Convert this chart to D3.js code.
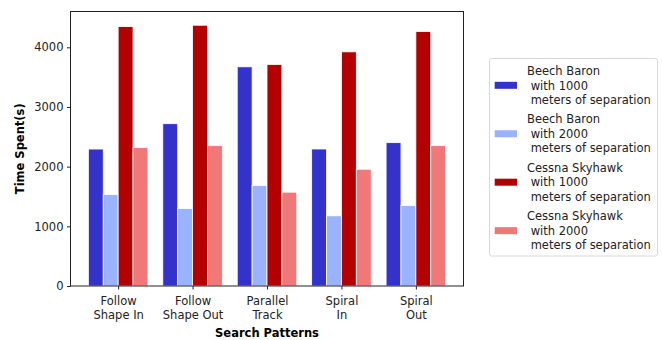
<!DOCTYPE html>
<html><head><meta charset="utf-8">
<script src="https://cdn.jsdelivr.net/npm/d3@7"></script>
<style>body{margin:0;background:#fff}text{font-family:"DejaVu Sans",sans-serif}</style>
</head><body><svg id="c" width="662" height="340"></svg>
<script>
const categories = ["Follow\nShape In", "Follow\nShape Out", "Parallel\nTrack", "Spiral\nIn", "Spiral\nOut"];
const seriesNames = [
  "Beech Baron\n with 1000\n meters of separation",
  "Beech Baron\n with 2000\n meters of separation",
  "Cessna Skyhawk\n with 1000\n meters of separation",
  "Cessna Skyhawk\n with 2000\n meters of separation"
];
const beech1000 = [2295, 2720, 3673, 2296, 2402];
const beech2000 = [1533, 1299, 1683, 1176, 1349];
const cessna1000 = [4348, 4370, 3712, 3924, 4264];
const cessna2000 = [2319, 2352, 1572, 1957, 2352];
const yTicks = [0, 1000, 2000, 3000, 4000];
const colors = ["#3333cc", "#99b3ff", "#b30000", "#f07878"];
const series = [beech1000, beech2000, cessna1000, cessna2000];

const svg = d3.select("#c");
const L = 70.5, R = 463.5, T = 11.5, B = 286;
const barW = 0.2;
const x = d3.scaleLinear().domain([-0.64, 4.64]).range([L, R]);
const y = d3.scaleLinear().domain([0, 4600]).range([B, T]);
const fs = 11.5;

// bars
series.forEach((vals, si) => {
  svg.append("g").selectAll("rect").data(vals).join("rect")
    .attr("x", (d, i) => x(i + (si - 2) * barW))
    .attr("width", x(barW) - x(0))
    .attr("y", d => y(d))
    .attr("height", d => y(0) - y(d))
    .attr("fill", colors[si])
    .attr("stroke", "#fff").attr("stroke-width", 0.8);
});

// frame
svg.append("rect").attr("x", L).attr("y", T).attr("width", R - L).attr("height", B - T)
  .attr("fill", "none").attr("stroke", "#222").attr("stroke-width", 1);

// y axis
const yAxis = d3.axisLeft(y).tickValues(yTicks).tickSize(3.5).tickPadding(3.5).tickFormat(d3.format("d"));
const gy = svg.append("g").attr("transform", `translate(${L},0)`).call(yAxis);
gy.select(".domain").remove();
gy.selectAll("line").attr("stroke", "#222");
gy.selectAll("text").attr("font-size", fs).attr("fill", "#222").style("font-family", '"DejaVu Sans"');

// x axis
const xAxis = d3.axisBottom(x).tickValues(d3.range(categories.length)).tickSize(3.5).tickFormat("");
const gx = svg.append("g").attr("transform", `translate(0,${B})`).call(xAxis);
gx.select(".domain").remove();
gx.selectAll("line").attr("stroke", "#222");
gx.selectAll(".tick").each(function(d) {
  const lines = categories[d].split("\n");
  const t = d3.select(this).append("text").attr("text-anchor", "middle").attr("fill", "#222")
    .attr("font-size", fs).style("font-family", '"DejaVu Sans"');
  lines.forEach((ln, k) => t.append("tspan").attr("x", 0).attr("y", 19 + k * 14.3).text(ln));
});

// axis labels
svg.append("text").attr("x", (L + R) / 2).attr("y", 337).attr("text-anchor", "middle")
  .attr("font-size", fs).attr("font-weight", "bold").attr("fill", "#000").text("Search Patterns");
svg.append("text").attr("transform", `translate(24,${(T + B) / 2}) rotate(-90)`).attr("text-anchor", "middle")
  .attr("font-size", fs).attr("font-weight", "bold").attr("fill", "#000").text("Time Spent(s)");

// legend
const lg = svg.append("g");
lg.append("rect").attr("x", 489.5).attr("y", 58.5).attr("width", 168).attr("height", 197.5).attr("rx", 2)
  .attr("fill", "#fff").attr("stroke", "#d8d8d8").attr("stroke-width", 1);
seriesNames.forEach((name, i) => {
  const cy = 85.3 + i * 48.45;
  lg.append("rect").attr("x", 494.7).attr("y", cy - 3.5).attr("width", 22.3).attr("height", 7).attr("fill", colors[i]);
  const t = lg.append("text").attr("font-size", fs).attr("fill", "#222").attr("xml:space", "preserve").style("white-space", "pre");
  name.split("\n").forEach((ln, k) => t.append("tspan").attr("x", 527).attr("y", cy - 14.5 + k * 14.5 + 4.2).text(ln));
});
</script></body></html>
